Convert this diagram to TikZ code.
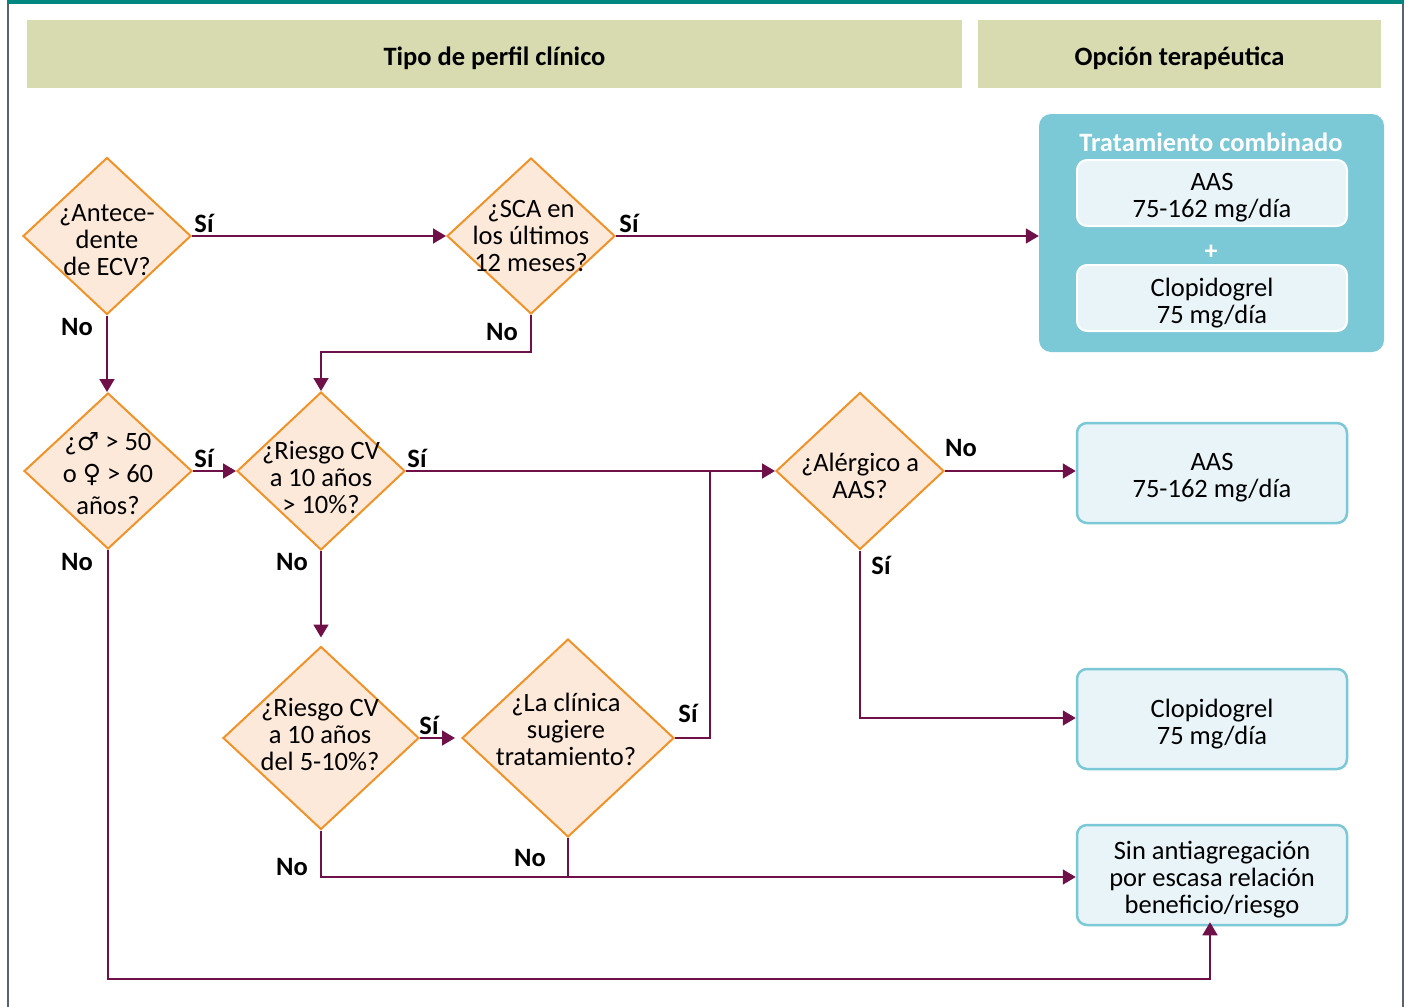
\documentclass[tikz,border=0pt]{standalone}
\usepackage{fontspec}
\setmainfont{Carlito}
\newfontfamily\symfont{DejaVu Sans}
\usetikzlibrary{shapes.geometric,arrows.meta}
\definecolor{teal1}{RGB}{0,135,130}
\definecolor{frameg}{RGB}{90,98,112}
\definecolor{headfill}{RGB}{216,219,176}
\definecolor{combfill}{RGB}{123,200,214}
\definecolor{lightbox}{RGB}{232,244,248}
\definecolor{diafill}{RGB}{253,233,217}
\definecolor{diadraw}{RGB}{240,146,40}
\definecolor{arr}{RGB}{112,16,72}
\tikzset{
  every node/.style={font=\fontsize{26.5}{27}\selectfont},
  dia/.style={shape=diamond, draw=diadraw, fill=diafill, line width=2pt, inner sep=0pt},
  dtext/.style={align=center, inner sep=0pt, font=\fontsize{26.5}{27}\selectfont},
  headbox/.style={fill=headfill, inner sep=0pt},
  headtext/.style={inner sep=0pt, font=\bfseries\fontsize{26.5}{27}\selectfont},
  resbox/.style={draw=combfill, fill=lightbox, line width=2.5pt, rounded corners=10pt, minimum width=270pt, minimum height=100pt, inner sep=0pt},
  innbox/.style={draw=white, fill=lightbox, line width=2pt, rounded corners=10pt, minimum width=270pt, minimum height=66pt, inner sep=0pt},
  btext/.style={align=center, inner sep=0pt, font=\fontsize{26.5}{27}\selectfont},
  conn/.style={draw=arr, line width=1.6pt},
  arrow/.style={conn, -{Triangle[length=13pt,width=15pt]}},
  lbl/.style={font=\bfseries\fontsize{26.5}{27}\selectfont, inner sep=0pt},
}
\begin{document}
\begin{tikzpicture}[x=1pt,y=-1pt]
\useasboundingbox (0,0) rectangle (1409,1007);
% frame
\draw[frameg, line width=2pt] (8,0) -- (8,1007);
\draw[frameg, line width=2pt] (1403,0) -- (1403,1007);
\fill[teal1] (7,0) rectangle (1404,4);
% headers
\node[headbox, minimum width=935pt, minimum height=68pt] (h1) at (494.5,54) {};
\node[headtext] (h1t) at (494.5,58) {Tipo de perfil clínico};
\node[headbox, minimum width=403pt, minimum height=68pt] (h2) at (1179.5,54) {};
\node[headtext] (h2t) at (1179.5,58) {Opción terapéutica};
% combined treatment
\node[fill=combfill, rounded corners=12pt, minimum width=345pt, minimum height=238pt, inner sep=0pt] (comb) at (1211.5,233) {};
\node[font=\bfseries\fontsize{26.5}{27}\selectfont, text=white, inner sep=0pt] (combt) at (1211,142) {Tratamiento combinado};
\node[innbox] (c1) at (1212,193) {};
\node[btext] (c1t) at (1212,198) {AAS\\75-162 mg/día};
\node[font=\bfseries\fontsize{26}{27}\selectfont, text=white, inner sep=0pt] (plus) at (1211,252) {+};
\node[innbox] (c2) at (1212,298) {};
\node[btext] (c2t) at (1212,303) {Clopidogrel\\75 mg/día};
% result boxes
\node[resbox] (r1) at (1212,473) {};
\node[btext] (r1t) at (1212,478) {AAS\\75-162 mg/día};
\node[resbox] (r2) at (1212,719) {};
\node[btext] (r2t) at (1212,724) {Clopidogrel\\75 mg/día};
\node[resbox] (r3) at (1212,875) {};
\node[btext] (r3t) at (1212,880) {Sin antiagregación\\por escasa relación\\beneficio/riesgo};
% diamonds
\node[dia, minimum width=168pt, minimum height=157pt] (d1) at (107,236) {};
\node[dtext] (d1t) at (107,240) {¿Antece-\\dente\\de ECV?};
\node[dia, minimum width=168pt, minimum height=156pt] (d2) at (531,236) {};
\node[dtext] (d2t) at (531,236) {¿SCA en\\los últimos\\12 meses?};
\node[dia, minimum width=168pt, minimum height=156pt] (d3) at (108,471) {};
\node[dtext, font=\fontsize{26.5}{32}\selectfont] (d3t) at (108,474) {¿{\symfont\fontsize{25}{32}\selectfont ♂} > 50\\o {\symfont\fontsize{25}{32}\selectfont ♀} > 60\\años?};
\node[dia, minimum width=168pt, minimum height=158pt] (d4) at (321,471) {};
\node[dtext] (d4t) at (321,477) {¿Riesgo CV\\a 10 años\\> 10\%?};
\node[dia, minimum width=168pt, minimum height=157pt] (d5) at (860,471) {};
\node[dtext] (d5t) at (860,476) {¿Alérgico a\\AAS?};
\node[dia, minimum width=196pt, minimum height=183pt] (d6) at (321,738) {};
\node[dtext] (d6t) at (320,734) {¿Riesgo CV\\a 10 años\\del 5-10\%?};
\node[dia, minimum width=212pt, minimum height=198pt] (d7) at (568,738) {};
\node[dtext] (d7t) at (566,729) {¿La clínica\\sugiere\\tratamiento?};
% junction coordinates
\coordinate (j1) at (531,352);
\coordinate (j2) at (321,352);
\coordinate (j3) at (710,738);
\coordinate (j4) at (710,471);
\coordinate (j5) at (860,718);
\coordinate (j6) at (321,877);
\coordinate (j7) at (568,877);
\coordinate (j8) at (108,979);
\coordinate (j9) at (1210,979);
% connectors
\draw[arrow] (d1.east) -- (d2.west);
\draw[arrow] (d2.east) -- (comb.west |- d2.east);
\draw[arrow] (d2.south) -- (j1) -- (j2) -- (d4.north);
\draw[arrow] (d1.south) -- (d1.south |- d3.north);
\draw[arrow] (d3.east) -- (d4.west);
\draw[arrow] (d4.east) -- (d5.west);
\draw[arrow] (d4.south) -- ([yshift=8pt]d6.north);
\draw[arrow] (d6.east) -- ([xshift=-6pt]d7.west);
\draw[conn] (d7.east) -- (j3) -- (j4);
\draw[arrow] (d5.east) -- (r1.west |- d5.east);
\draw[arrow] (d5.south) -- (j5) -- (r2.west |- j5);
\draw[arrow] (d6.south) -- (j6) -- (r3.west |- j6);
\draw[conn] (d7.south) -- (j7);
\draw[arrow] (d3.south) -- (j8) -- (j9) -- ([yshift=4pt]r3.south -| j9);
% labels
\node[lbl] (s1) at (204,223) {Sí};
\node[lbl] (s2) at (629,223) {Sí};
\node[lbl] (n1) at (77,327) {No};
\node[lbl] (n2) at (502,332) {No};
\node[lbl] (s3) at (204,458) {Sí};
\node[lbl] (s4) at (417,458) {Sí};
\node[lbl] (n3) at (77,562) {No};
\node[lbl] (n4) at (292,562) {No};
\node[lbl] (n5) at (961,448) {No};
\node[lbl] (s5) at (881,565) {Sí};
\node[lbl] (s6) at (429,725) {Sí};
\node[lbl] (s7) at (688,713) {Sí};
\node[lbl] (n6) at (292,867) {No};
\node[lbl] (n7) at (530,858) {No};
\end{tikzpicture}
\end{document}
